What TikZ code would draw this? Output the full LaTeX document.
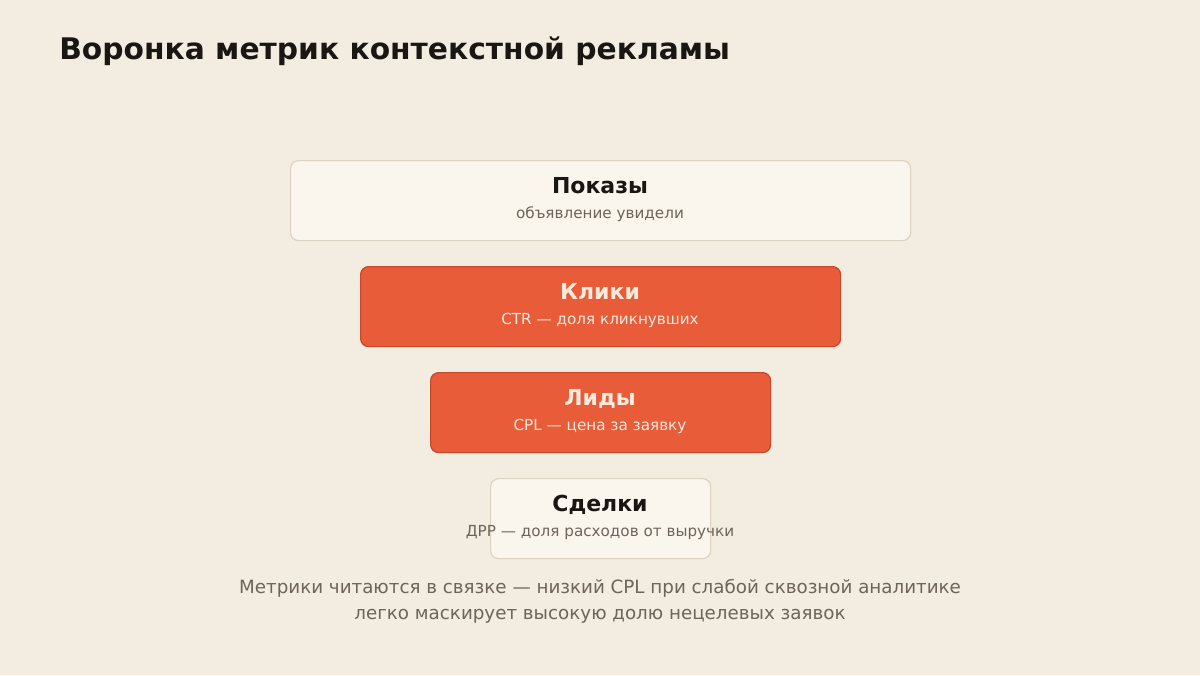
\documentclass[tikz,border=0pt]{standalone}
\usepackage{fontspec}
\setmainfont{DejaVu Sans}
\definecolor{bgcol}{HTML}{F3ECE1}
\definecolor{palecol}{HTML}{FAF6EE}
\definecolor{paleedge}{HTML}{DDD3C2}
\definecolor{hotcol}{HTML}{E85C3A}
\definecolor{hotedge}{HTML}{C8472A}
\definecolor{inkcol}{HTML}{1A1712}
\definecolor{greycol}{HTML}{6E6457}
\definecolor{creamcol}{HTML}{FCEBDD}
\tikzset{
  stage/.style={draw=paleedge, fill=palecol, line width=0.9pt, rounded corners=6pt, anchor=north west, inner sep=0pt},
  hotstage/.style={stage, draw=hotedge, fill=hotcol},
  head/.style={font=\bfseries\fontsize{16.5}{19}\selectfont, text=inkcol, anchor=base},
  sub/.style={font=\fontsize{11.4}{13}\selectfont, text=greycol, anchor=base}
}
\begin{document}
\begin{tikzpicture}[x=0.75pt, y=-0.75pt]
\fill [bgcol] (0,0) rectangle (1200,675);
\useasboundingbox (0,0) rectangle (1200,675);

\node [font=\bfseries\fontsize{22.3}{26}\selectfont, text=inkcol, anchor=base west, inner sep=0pt] (title) at (59,59) {Воронка метрик контекстной рекламы};

\node [stage, minimum width=465pt, minimum height=60pt] (shows) at (290,160) {};
\node [head] (showshead) at (600,193) {Показы};
\node [sub] (showssub) at (600,218) {объявление увидели};

\node [hotstage, minimum width=360pt, minimum height=60pt] (clicks) at (360,266) {};
\node [head, text=creamcol] (clickshead) at (600,299) {Клики};
\node [sub, text=creamcol] (clickssub) at (600,324) {CTR — доля кликнувших};

\node [hotstage, minimum width=255pt, minimum height=60pt] (leads) at (430,372) {};
\node [head, text=creamcol] (leadshead) at (600,405) {Лиды};
\node [sub, text=creamcol] (leadssub) at (600,430) {CPL — цена за заявку};

\node [stage, minimum width=165pt, minimum height=60pt] (deals) at (490,478) {};
\node [head] (dealshead) at (600,511) {Сделки};
\node [sub] (dealssub) at (600,536) {ДРР — доля расходов от выручки};

\node [font=\fontsize{13.7}{19.5}\selectfont, text=greycol, align=center, anchor=base] (note) at (600,619)
  {Метрики читаются в связке — низкий CPL при слабой сквозной аналитике\\легко маскирует высокую долю нецелевых заявок};
\end{tikzpicture}
\end{document}
